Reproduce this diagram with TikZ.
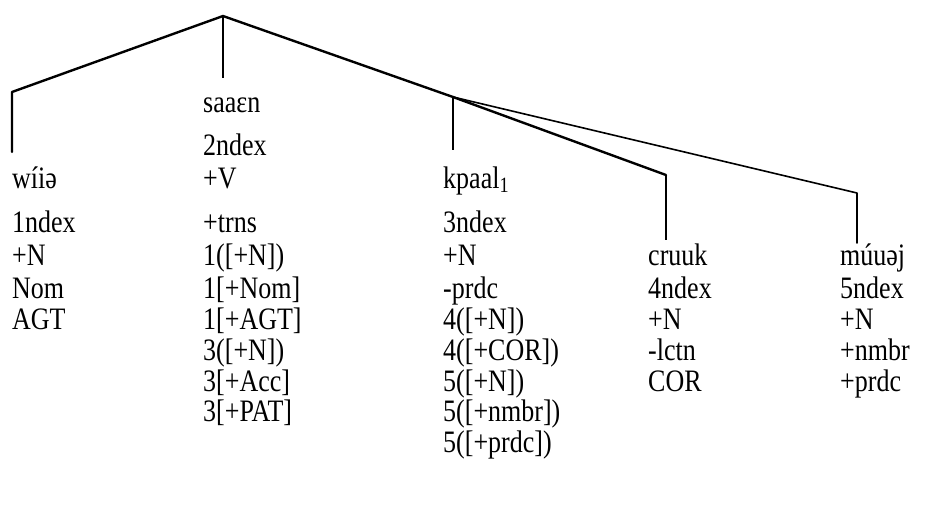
\documentclass[tikz,border=0pt]{standalone}
\usepackage{fontspec}
\usepackage{graphicx}
\setmainfont{Liberation Serif}
% tall serif lettering
\newcommand{\tall}[1]{\scalebox{1}[1.2]{#1}}
\begin{document}
\begin{tikzpicture}[x=1pt,y=-1pt,
  lbl/.style={anchor=base west, inner sep=0pt, font=\fontsize{26}{30}\selectfont},
  branch/.style={line width=2.4pt, line cap=round, line join=round},
  thinbranch/.style={line width=1.6pt, line cap=round, line join=round},
  stem/.style={line width=1.8pt},
]
\path[use as bounding box] (0,0) rectangle (941,512);

% tree points
\coordinate (root)  at (223,16);
\coordinate (lc)    at (12,92);
\coordinate (lend)  at (12,152);
\coordinate (mend)  at (223,78);
\coordinate (rb)    at (453,97);
\coordinate (kend)  at (453,150);
\coordinate (cc)    at (666,175);
\coordinate (cend)  at (666,240);
\coordinate (mc)    at (857,193);
\coordinate (mmend) at (857,243);

% branches
\draw[branch] (lend) -- (lc) -- (root) -- (rb) -- (cc);
\draw[stem] (root) -- (mend);
\draw[stem] (rb) -- (kend);
\draw[stem] (cc) -- (cend);
\draw[thinbranch] (rb) -- (mc) -- (mmend);

% column 1
\node[lbl] (a1) at (12,188) {\tall{wíiə}};
\node[lbl] (a2) at (12,232) {\tall{1ndex}};
\node[lbl] (a3) at (12,265) {\tall{+N}};
\node[lbl] (a4) at (12,298) {\tall{Nom}};
\node[lbl] (a5) at (12,329) {\tall{AGT}};

% column 2
\node[lbl] (b0) at (203,112) {\tall{saaɛn}};
\node[lbl] (b1) at (203,155) {\tall{2ndex}};
\node[lbl] (b2) at (203,188) {\tall{+V}};
\node[lbl] (b3) at (203,232) {\tall{+trns}};
\node[lbl] (b4) at (203,265) {\tall{1([+N])}};
\node[lbl] (b5) at (203,298) {\tall{1[+Nom]}};
\node[lbl] (b6) at (203,329) {\tall{1[+AGT]}};
\node[lbl] (b7) at (203,360) {\tall{3([+N])}};
\node[lbl] (b8) at (203,391) {\tall{3[+Acc]}};
\node[lbl] (b9) at (203,421) {\tall{3[+PAT]}};

% column 3
\node[lbl] (c1) at (443,188) {\tall{kpaal\textsubscript{1}}};
\node[lbl] (c2) at (443,232) {\tall{3ndex}};
\node[lbl] (c3) at (443,265) {\tall{+N}};
\node[lbl] (c4) at (443,298) {\tall{-prdc}};
\node[lbl] (c5) at (443,329) {\tall{4([+N])}};
\node[lbl] (c6) at (443,360) {\tall{4([+COR])}};
\node[lbl] (c7) at (443,391) {\tall{5([+N])}};
\node[lbl] (c8) at (443,421) {\tall{5([+nmbr])}};
\node[lbl] (c9) at (443,452) {\tall{5([+prdc])}};

% column 4
\node[lbl] (d1) at (648,265) {\tall{cruuk}};
\node[lbl] (d2) at (648,298) {\tall{4ndex}};
\node[lbl] (d3) at (648,329) {\tall{+N}};
\node[lbl] (d4) at (648,360) {\tall{-lctn}};
\node[lbl] (d5) at (648,391) {\tall{COR}};

% column 5
\node[lbl] (e1) at (840,265) {\tall{múuəj}};
\node[lbl] (e2) at (840,298) {\tall{5ndex}};
\node[lbl] (e3) at (840,329) {\tall{+N}};
\node[lbl] (e4) at (840,360) {\tall{+nmbr}};
\node[lbl] (e5) at (840,391) {\tall{+prdc}};
\end{tikzpicture}
\end{document}
